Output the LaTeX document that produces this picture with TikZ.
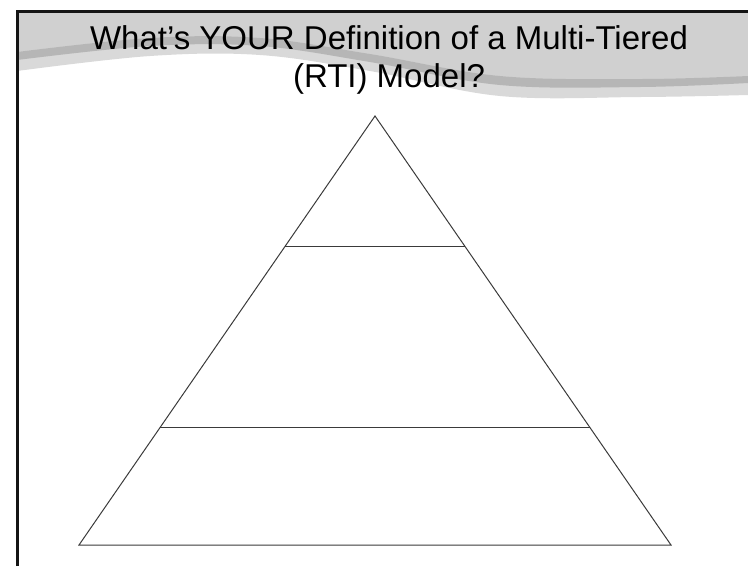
\documentclass[tikz,border=0pt]{standalone}
\usepackage{fontspec}
\setmainfont{Liberation Sans}
\usetikzlibrary{calc}
\definecolor{bandlight}{HTML}{D0D0D0}
\definecolor{bandlow}{HTML}{D9D9D9}
\definecolor{bandstripe}{HTML}{B6B6B6}
\definecolor{framecol}{HTML}{141414}
\definecolor{linecol}{HTML}{3A3A3A}
\tikzset{
  titletext/.style={font=\fontsize{33}{38.5}\selectfont, text=black, inner sep=0pt, anchor=base},
  framerule/.style={draw=framecol, line width=2.6pt},
  tierline/.style={draw=linecol, line width=1pt, line join=miter},
}
\begin{document}
\begin{tikzpicture}[x=1pt,y=-1pt]
\useasboundingbox (0,0) rectangle (748,566);
% header band
\fill[bandlow] (17,12) -- (748,12) -- (748,95)
  -- plot[smooth, tension=0.6] coordinates {(748,95) (640,97) (500,96) (370,71) (260,55) (150,56) (17,71)} -- cycle;
\fill[bandlight] (17,12) -- (748,12) -- (748,76)
  -- plot[smooth, tension=0.6] coordinates {(748,76) (640,79) (500,76) (370,54) (260,38) (150,38) (17,52)} -- cycle;
\fill[bandstripe] plot[smooth, tension=0.6] coordinates {(17,52) (150,38) (260,38) (370,54) (500,76) (640,79) (748,76)}
  -- plot[smooth, tension=0.6] coordinates {(748,83) (640,87) (500,85) (370,62) (260,46) (150,46) (17,60)} -- cycle;
% frame
\draw[framerule] (17.5,566) -- (17.5,11.5) -- (748,11.5);
% title
\node[titletext] (title1) at (389,49) {What’s YOUR Definition of a Multi-Tiered};
\node[titletext] (title2) at (389,87.5) {(RTI) Model?};
% pyramid
\coordinate (apex) at (375,116);
\coordinate (bl) at (79,545);
\coordinate (br) at (671,545);
\coordinate (l1) at ($(apex)!0.30303!(bl)$);
\coordinate (r1) at ($(apex)!0.30303!(br)$);
\coordinate (l2) at ($(apex)!0.72494!(bl)$);
\coordinate (r2) at ($(apex)!0.72494!(br)$);
\draw[tierline] (apex) -- (bl) -- (br) -- cycle;
\draw[tierline] (l1) -- (r1);
\draw[tierline] (l2) -- (r2);
\end{tikzpicture}
\end{document}
